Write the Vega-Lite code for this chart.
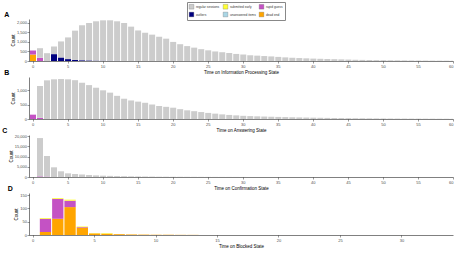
{
  "$schema": "https://vega.github.io/schema/vega-lite/v6.json",
  "padding": {"left": 2, "top": 1, "right": 3, "bottom": 1},
  "spacing": -5,
  "config": {
    "font": "Liberation Sans",
    "view": {"stroke": null},
    "axis": {"labelFontSize": 4, "titleFontSize": 4.5, "titleFontWeight": "normal", "tickSize": 2, "labelPadding": 1, "titlePadding": 1.5, "grid": false, "domainColor": "#000000", "tickColor": "#333333", "labelColor": "#4d4d4d", "titleColor": "#000000", "domainWidth": 0.5, "tickWidth": 0.5},
    "axisY": {"labelPadding": 0.5, "titlePadding": 1},
    "title": {"fontSize": 7, "fontWeight": "bold", "orient": "left", "anchor": "end", "angle": 0, "baseline": "bottom", "align": "right", "offset": -4, "dy": -8, "frame": "group", "color": "#000000"},
    "bar": {"stroke": null}
  },
  "resolve": {"scale": {"color": "independent"}},
  "datasets": {
    "a": [
      {"t0": -0.5, "t1": 0.5, "type": "dead end", "n": 340},
      {"t0": -0.5, "t1": 0.5, "type": "rapid guess", "n": 210},
      {"t0": 0.5, "t1": 1.5, "type": "rapid guess", "n": 170},
      {"t0": 0.5, "t1": 1.5, "type": "regular sessions", "n": 500},
      {"t0": 1.5, "t1": 2.5, "type": "regular sessions", "n": 410},
      {"t0": 2.5, "t1": 3.5, "type": "outliers", "n": 360},
      {"t0": 2.5, "t1": 3.5, "type": "regular sessions", "n": 400},
      {"t0": 3.5, "t1": 4.5, "type": "outliers", "n": 185},
      {"t0": 3.5, "t1": 4.5, "type": "regular sessions", "n": 840},
      {"t0": 4.5, "t1": 5.5, "type": "outliers", "n": 100},
      {"t0": 4.5, "t1": 5.5, "type": "regular sessions", "n": 1135},
      {"t0": 5.5, "t1": 6.5, "type": "outliers", "n": 60},
      {"t0": 5.5, "t1": 6.5, "type": "regular sessions", "n": 1530},
      {"t0": 6.5, "t1": 7.5, "type": "outliers", "n": 40},
      {"t0": 6.5, "t1": 7.5, "type": "regular sessions", "n": 1830},
      {"t0": 7.5, "t1": 8.5, "type": "outliers", "n": 30},
      {"t0": 7.5, "t1": 8.5, "type": "regular sessions", "n": 1960},
      {"t0": 8.5, "t1": 9.5, "type": "outliers", "n": 20},
      {"t0": 8.5, "t1": 9.5, "type": "regular sessions", "n": 2060},
      {"t0": 9.5, "t1": 10.5, "type": "outliers", "n": 15},
      {"t0": 9.5, "t1": 10.5, "type": "regular sessions", "n": 2115},
      {"t0": 10.5, "t1": 11.5, "type": "outliers", "n": 12},
      {"t0": 10.5, "t1": 11.5, "type": "regular sessions", "n": 2120},
      {"t0": 11.5, "t1": 12.5, "type": "outliers", "n": 10},
      {"t0": 11.5, "t1": 12.5, "type": "regular sessions", "n": 2070},
      {"t0": 12.5, "t1": 13.5, "type": "regular sessions", "n": 1990},
      {"t0": 13.5, "t1": 14.5, "type": "regular sessions", "n": 1800},
      {"t0": 14.5, "t1": 15.5, "type": "regular sessions", "n": 1600},
      {"t0": 15.5, "t1": 16.5, "type": "regular sessions", "n": 1480},
      {"t0": 16.5, "t1": 17.5, "type": "regular sessions", "n": 1380},
      {"t0": 17.5, "t1": 18.5, "type": "regular sessions", "n": 1270},
      {"t0": 18.5, "t1": 19.5, "type": "regular sessions", "n": 1170},
      {"t0": 19.5, "t1": 20.5, "type": "regular sessions", "n": 1000},
      {"t0": 20.5, "t1": 21.5, "type": "regular sessions", "n": 880},
      {"t0": 21.5, "t1": 22.5, "type": "regular sessions", "n": 780},
      {"t0": 22.5, "t1": 23.5, "type": "regular sessions", "n": 700},
      {"t0": 23.5, "t1": 24.5, "type": "regular sessions", "n": 620},
      {"t0": 24.5, "t1": 25.5, "type": "regular sessions", "n": 560},
      {"t0": 25.5, "t1": 26.5, "type": "regular sessions", "n": 500},
      {"t0": 26.5, "t1": 27.5, "type": "regular sessions", "n": 460},
      {"t0": 27.5, "t1": 28.5, "type": "regular sessions", "n": 420},
      {"t0": 28.5, "t1": 29.5, "type": "regular sessions", "n": 370},
      {"t0": 29.5, "t1": 30.5, "type": "regular sessions", "n": 340},
      {"t0": 30.5, "t1": 31.5, "type": "regular sessions", "n": 300},
      {"t0": 31.5, "t1": 32.5, "type": "regular sessions", "n": 280},
      {"t0": 32.5, "t1": 33.5, "type": "regular sessions", "n": 260},
      {"t0": 33.5, "t1": 34.5, "type": "regular sessions", "n": 240},
      {"t0": 34.5, "t1": 35.5, "type": "regular sessions", "n": 215},
      {"t0": 35.5, "t1": 36.5, "type": "regular sessions", "n": 190},
      {"t0": 36.5, "t1": 37.5, "type": "regular sessions", "n": 170},
      {"t0": 37.5, "t1": 38.5, "type": "regular sessions", "n": 155},
      {"t0": 38.5, "t1": 39.5, "type": "regular sessions", "n": 140},
      {"t0": 39.5, "t1": 40.5, "type": "regular sessions", "n": 125},
      {"t0": 40.5, "t1": 41.5, "type": "regular sessions", "n": 115},
      {"t0": 41.5, "t1": 42.5, "type": "regular sessions", "n": 105},
      {"t0": 42.5, "t1": 43.5, "type": "regular sessions", "n": 95},
      {"t0": 43.5, "t1": 44.5, "type": "regular sessions", "n": 85},
      {"t0": 44.5, "t1": 45.5, "type": "regular sessions", "n": 75},
      {"t0": 45.5, "t1": 46.5, "type": "regular sessions", "n": 65},
      {"t0": 46.5, "t1": 47.5, "type": "regular sessions", "n": 58},
      {"t0": 47.5, "t1": 48.5, "type": "regular sessions", "n": 52},
      {"t0": 48.5, "t1": 49.5, "type": "regular sessions", "n": 46},
      {"t0": 49.5, "t1": 50.5, "type": "regular sessions", "n": 42},
      {"t0": 50.5, "t1": 51.5, "type": "regular sessions", "n": 38},
      {"t0": 51.5, "t1": 52.5, "type": "regular sessions", "n": 35},
      {"t0": 52.5, "t1": 53.5, "type": "regular sessions", "n": 32},
      {"t0": 53.5, "t1": 54.5, "type": "regular sessions", "n": 28},
      {"t0": 54.5, "t1": 55.5, "type": "regular sessions", "n": 25},
      {"t0": 55.5, "t1": 56.5, "type": "regular sessions", "n": 22},
      {"t0": 56.5, "t1": 57.5, "type": "regular sessions", "n": 20},
      {"t0": 57.5, "t1": 58.5, "type": "regular sessions", "n": 18},
      {"t0": 58.5, "t1": 59.5, "type": "regular sessions", "n": 16},
      {"t0": 59.5, "t1": 60, "type": "regular sessions", "n": 14}
    ],
    "b": [
      {"t0": -0.5, "t1": 0.5, "type": "rapid guess", "n": 150},
      {"t0": 0.5, "t1": 1.5, "type": "rapid guess", "n": 40},
      {"t0": 0.5, "t1": 1.5, "type": "regular sessions", "n": 1100},
      {"t0": 1.5, "t1": 2.5, "type": "regular sessions", "n": 1335},
      {"t0": 2.5, "t1": 3.5, "type": "regular sessions", "n": 1370},
      {"t0": 3.5, "t1": 4.5, "type": "regular sessions", "n": 1380},
      {"t0": 4.5, "t1": 5.5, "type": "regular sessions", "n": 1370},
      {"t0": 5.5, "t1": 6.5, "type": "regular sessions", "n": 1340},
      {"t0": 6.5, "t1": 7.5, "type": "regular sessions", "n": 1250},
      {"t0": 7.5, "t1": 8.5, "type": "regular sessions", "n": 1170},
      {"t0": 8.5, "t1": 9.5, "type": "regular sessions", "n": 1080},
      {"t0": 9.5, "t1": 10.5, "type": "regular sessions", "n": 990},
      {"t0": 10.5, "t1": 11.5, "type": "regular sessions", "n": 910},
      {"t0": 11.5, "t1": 12.5, "type": "regular sessions", "n": 800},
      {"t0": 12.5, "t1": 13.5, "type": "regular sessions", "n": 700},
      {"t0": 13.5, "t1": 14.5, "type": "regular sessions", "n": 640},
      {"t0": 14.5, "t1": 15.5, "type": "regular sessions", "n": 600},
      {"t0": 15.5, "t1": 16.5, "type": "regular sessions", "n": 560},
      {"t0": 16.5, "t1": 17.5, "type": "regular sessions", "n": 500},
      {"t0": 17.5, "t1": 18.5, "type": "regular sessions", "n": 450},
      {"t0": 18.5, "t1": 19.5, "type": "regular sessions", "n": 420},
      {"t0": 19.5, "t1": 20.5, "type": "regular sessions", "n": 390},
      {"t0": 20.5, "t1": 21.5, "type": "regular sessions", "n": 340},
      {"t0": 21.5, "t1": 22.5, "type": "regular sessions", "n": 300},
      {"t0": 22.5, "t1": 23.5, "type": "regular sessions", "n": 270},
      {"t0": 23.5, "t1": 24.5, "type": "regular sessions", "n": 240},
      {"t0": 24.5, "t1": 25.5, "type": "regular sessions", "n": 210},
      {"t0": 25.5, "t1": 26.5, "type": "regular sessions", "n": 185},
      {"t0": 26.5, "t1": 27.5, "type": "regular sessions", "n": 160},
      {"t0": 27.5, "t1": 28.5, "type": "regular sessions", "n": 140},
      {"t0": 28.5, "t1": 29.5, "type": "regular sessions", "n": 125},
      {"t0": 29.5, "t1": 30.5, "type": "regular sessions", "n": 110},
      {"t0": 30.5, "t1": 31.5, "type": "regular sessions", "n": 100},
      {"t0": 31.5, "t1": 32.5, "type": "regular sessions", "n": 92},
      {"t0": 32.5, "t1": 33.5, "type": "regular sessions", "n": 85},
      {"t0": 33.5, "t1": 34.5, "type": "regular sessions", "n": 78},
      {"t0": 34.5, "t1": 35.5, "type": "regular sessions", "n": 72},
      {"t0": 35.5, "t1": 36.5, "type": "regular sessions", "n": 66},
      {"t0": 36.5, "t1": 37.5, "type": "regular sessions", "n": 60},
      {"t0": 37.5, "t1": 38.5, "type": "regular sessions", "n": 55},
      {"t0": 38.5, "t1": 39.5, "type": "regular sessions", "n": 50},
      {"t0": 39.5, "t1": 40.5, "type": "regular sessions", "n": 46},
      {"t0": 40.5, "t1": 41.5, "type": "regular sessions", "n": 42},
      {"t0": 41.5, "t1": 42.5, "type": "regular sessions", "n": 38},
      {"t0": 42.5, "t1": 43.5, "type": "regular sessions", "n": 35},
      {"t0": 43.5, "t1": 44.5, "type": "regular sessions", "n": 32},
      {"t0": 44.5, "t1": 45.5, "type": "regular sessions", "n": 29},
      {"t0": 45.5, "t1": 46.5, "type": "regular sessions", "n": 26},
      {"t0": 46.5, "t1": 47.5, "type": "regular sessions", "n": 24},
      {"t0": 47.5, "t1": 48.5, "type": "regular sessions", "n": 22},
      {"t0": 48.5, "t1": 49.5, "type": "regular sessions", "n": 20},
      {"t0": 49.5, "t1": 50.5, "type": "regular sessions", "n": 18},
      {"t0": 50.5, "t1": 51.5, "type": "regular sessions", "n": 16},
      {"t0": 51.5, "t1": 52.5, "type": "regular sessions", "n": 15},
      {"t0": 52.5, "t1": 53.5, "type": "regular sessions", "n": 14},
      {"t0": 53.5, "t1": 54.5, "type": "regular sessions", "n": 13},
      {"t0": 54.5, "t1": 55.5, "type": "regular sessions", "n": 12},
      {"t0": 55.5, "t1": 56.5, "type": "regular sessions", "n": 11},
      {"t0": 56.5, "t1": 57.5, "type": "regular sessions", "n": 10},
      {"t0": 57.5, "t1": 58.5, "type": "regular sessions", "n": 9},
      {"t0": 58.5, "t1": 59.5, "type": "regular sessions", "n": 8},
      {"t0": 59.5, "t1": 60, "type": "regular sessions", "n": 7}
    ],
    "c": [
      {"t0": 0.5, "t1": 1.5, "type": "rapid guess", "n": 300},
      {"t0": 0.5, "t1": 1.5, "type": "regular sessions", "n": 18800},
      {"t0": 1.5, "t1": 2.5, "type": "rapid guess", "n": 200},
      {"t0": 1.5, "t1": 2.5, "type": "regular sessions", "n": 10100},
      {"t0": 2.5, "t1": 3.5, "type": "regular sessions", "n": 4750},
      {"t0": 3.5, "t1": 4.5, "type": "regular sessions", "n": 2800},
      {"t0": 4.5, "t1": 5.5, "type": "regular sessions", "n": 1800},
      {"t0": 5.5, "t1": 6.5, "type": "regular sessions", "n": 1470},
      {"t0": 6.5, "t1": 7.5, "type": "regular sessions", "n": 1200},
      {"t0": 7.5, "t1": 8.5, "type": "regular sessions", "n": 980},
      {"t0": 8.5, "t1": 9.5, "type": "regular sessions", "n": 800},
      {"t0": 9.5, "t1": 10.5, "type": "regular sessions", "n": 650},
      {"t0": 10.5, "t1": 11.5, "type": "regular sessions", "n": 550},
      {"t0": 11.5, "t1": 12.5, "type": "regular sessions", "n": 450},
      {"t0": 12.5, "t1": 13.5, "type": "regular sessions", "n": 380},
      {"t0": 13.5, "t1": 14.5, "type": "regular sessions", "n": 320},
      {"t0": 14.5, "t1": 15.5, "type": "regular sessions", "n": 270},
      {"t0": 15.5, "t1": 16.5, "type": "regular sessions", "n": 230},
      {"t0": 16.5, "t1": 17.5, "type": "regular sessions", "n": 190},
      {"t0": 17.5, "t1": 18.5, "type": "regular sessions", "n": 160},
      {"t0": 18.5, "t1": 19.5, "type": "regular sessions", "n": 130},
      {"t0": 19.5, "t1": 20.5, "type": "regular sessions", "n": 110},
      {"t0": 20.5, "t1": 21.5, "type": "regular sessions", "n": 95},
      {"t0": 21.5, "t1": 22.5, "type": "regular sessions", "n": 80},
      {"t0": 22.5, "t1": 23.5, "type": "regular sessions", "n": 70},
      {"t0": 23.5, "t1": 24.5, "type": "regular sessions", "n": 60},
      {"t0": 24.5, "t1": 25.5, "type": "regular sessions", "n": 50},
      {"t0": 25.5, "t1": 26.5, "type": "regular sessions", "n": 42},
      {"t0": 26.5, "t1": 27.5, "type": "regular sessions", "n": 36},
      {"t0": 27.5, "t1": 28.5, "type": "regular sessions", "n": 30},
      {"t0": 28.5, "t1": 29.5, "type": "regular sessions", "n": 25},
      {"t0": 29.5, "t1": 30.5, "type": "regular sessions", "n": 20}
    ],
    "d": [
      {"t0": 0.5, "t1": 1.5, "type": "dead end", "n": 11},
      {"t0": 0.5, "t1": 1.5, "type": "rapid guess", "n": 50},
      {"t0": 0.5, "t1": 1.5, "type": "submitted early", "n": 3},
      {"t0": 1.5, "t1": 2.5, "type": "dead end", "n": 61},
      {"t0": 1.5, "t1": 2.5, "type": "rapid guess", "n": 75},
      {"t0": 1.5, "t1": 2.5, "type": "submitted early", "n": 3},
      {"t0": 2.5, "t1": 3.5, "type": "dead end", "n": 105},
      {"t0": 2.5, "t1": 3.5, "type": "rapid guess", "n": 24},
      {"t0": 2.5, "t1": 3.5, "type": "submitted early", "n": 4},
      {"t0": 3.5, "t1": 4.5, "type": "dead end", "n": 28},
      {"t0": 3.5, "t1": 4.5, "type": "rapid guess", "n": 2},
      {"t0": 3.5, "t1": 4.5, "type": "submitted early", "n": 2},
      {"t0": 4.5, "t1": 5.5, "type": "dead end", "n": 6},
      {"t0": 4.5, "t1": 5.5, "type": "submitted early", "n": 1},
      {"t0": 5.5, "t1": 6.5, "type": "dead end", "n": 5},
      {"t0": 5.5, "t1": 6.5, "type": "submitted early", "n": 2},
      {"t0": 6.5, "t1": 7.5, "type": "dead end", "n": 3},
      {"t0": 7.5, "t1": 8.5, "type": "dead end", "n": 2},
      {"t0": 8.5, "t1": 9.5, "type": "dead end", "n": 1.5},
      {"t0": 9.5, "t1": 10.5, "type": "dead end", "n": 1},
      {"t0": 10.5, "t1": 11.5, "type": "dead end", "n": 1},
      {"t0": 11.5, "t1": 12.5, "type": "dead end", "n": 0.6},
      {"t0": 12.5, "t1": 13.5, "type": "dead end", "n": 0.5}
    ]
  },
  "vconcat": [
    {
      "data": {"name": "a"},
      "width": 424, "height": 42,
      "title": {"text": "A"},
      "transform": [{"calculate": "indexof(['outliers','dead end','rapid guess','submitted early','unanswered items','regular sessions'], datum.type)", "as": "o"}],
      "mark": {"type": "bar"},
      "encoding": {
        "x": {"field": "t0", "bin": "binned", "type": "quantitative", "scale": {"domain": [-0.5, 60], "nice": false, "zero": false}, "axis": {"values": [0,5,10,15,20,25,30,35,40,45,50,55,60], "title": "Time on Information Processing State"}},
        "x2": {"field": "t1"},
        "y": {"field": "n", "type": "quantitative", "stack": "zero", "scale": {"domain": [0, 2200], "nice": false}, "axis": {"values": [0,500,1000,1500,2000], "title": "Count"}},
        "color": {"field": "type", "type": "nominal", "scale": {"domain": ["regular sessions","outliers","submitted early","unanswered items","rapid guess","dead end"], "range": ["#cccccc","#00007f","#ffff33","#a9d6e5","#c452c4","#ffa500"]}, "legend": {"title": null, "orient": "none", "legendX": 158, "legendY": -17, "columns": 3, "symbolType": "square", "symbolSize": 22, "labelFontSize": 3.2, "labelColor": "#333333", "strokeColor": "#888888", "padding": 2, "columnPadding": 2, "rowPadding": 1, "symbolStrokeColor": "#666666", "symbolStrokeWidth": 0.3, "labelOffset": 2}},
        "order": {"field": "o", "type": "quantitative"}
      }
    },
    {
      "data": {"name": "b"},
      "width": 424, "height": 42,
      "title": {"text": "B"},
      "transform": [{"calculate": "indexof(['outliers','dead end','rapid guess','submitted early','unanswered items','regular sessions'], datum.type)", "as": "o"}],
      "mark": {"type": "bar"},
      "encoding": {
        "x": {"field": "t0", "bin": "binned", "type": "quantitative", "scale": {"domain": [-0.5, 60], "nice": false, "zero": false}, "axis": {"values": [0,5,10,15,20,25,30,35,40,45,50,55,60], "title": "Time on Answering State"}},
        "x2": {"field": "t1"},
        "y": {"field": "n", "type": "quantitative", "stack": "zero", "scale": {"domain": [0, 1450], "nice": false}, "axis": {"values": [0,500,1000], "title": "Count"}},
        "color": {"field": "type", "type": "nominal", "scale": {"domain": ["regular sessions","outliers","submitted early","unanswered items","rapid guess","dead end"], "range": ["#cccccc","#00007f","#ffff33","#a9d6e5","#c452c4","#ffa500"]}, "legend": null},
        "order": {"field": "o", "type": "quantitative"}
      }
    },
    {
      "data": {"name": "c"},
      "width": 424, "height": 42,
      "title": {"text": "C"},
      "transform": [{"calculate": "indexof(['outliers','dead end','rapid guess','submitted early','unanswered items','regular sessions'], datum.type)", "as": "o"}],
      "mark": {"type": "bar"},
      "encoding": {
        "x": {"field": "t0", "bin": "binned", "type": "quantitative", "scale": {"domain": [-0.5, 60], "nice": false, "zero": false}, "axis": {"values": [0,5,10,15,20,25,30,35,40,45,50,55,60], "title": "Time on Confirmation State"}},
        "x2": {"field": "t1"},
        "y": {"field": "n", "type": "quantitative", "stack": "zero", "scale": {"domain": [0, 20600], "nice": false}, "axis": {"values": [0,5000,10000,15000,20000], "title": "Count"}},
        "color": {"field": "type", "type": "nominal", "scale": {"domain": ["regular sessions","outliers","submitted early","unanswered items","rapid guess","dead end"], "range": ["#cccccc","#00007f","#ffff33","#a9d6e5","#c452c4","#ffa500"]}, "legend": null},
        "order": {"field": "o", "type": "quantitative"}
      }
    },
    {
      "data": {"name": "d"},
      "width": 424, "height": 42,
      "title": {"text": "D"},
      "transform": [{"calculate": "indexof(['outliers','dead end','rapid guess','submitted early','unanswered items','regular sessions'], datum.type)", "as": "o"}],
      "mark": {"type": "bar"},
      "encoding": {
        "x": {"field": "t0", "bin": "binned", "type": "quantitative", "scale": {"domain": [-0.3, 34.2], "nice": false, "zero": false}, "axis": {"values": [0,5,10,15,20,25,30], "title": "Time on Blocked State"}},
        "x2": {"field": "t1"},
        "y": {"field": "n", "type": "quantitative", "stack": "zero", "scale": {"domain": [0, 158], "nice": false}, "axis": {"values": [0,50,100,150], "title": "Count"}},
        "color": {"field": "type", "type": "nominal", "scale": {"domain": ["regular sessions","outliers","submitted early","unanswered items","rapid guess","dead end"], "range": ["#cccccc","#00007f","#ffff33","#a9d6e5","#c452c4","#ffa500"]}, "legend": null},
        "order": {"field": "o", "type": "quantitative"}
      }
    }
  ]
}
